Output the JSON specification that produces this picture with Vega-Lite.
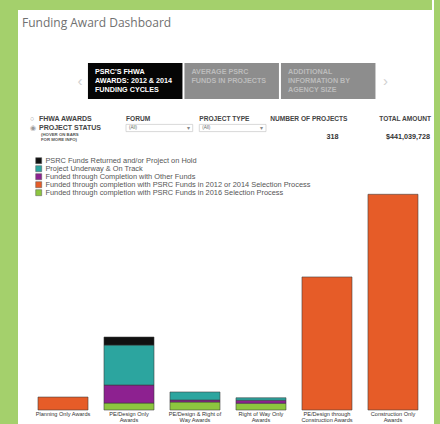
{
  "$schema": "https://vega.github.io/schema/vega-lite/v6.json",
  "background": "white",
  "padding": 0,
  "config": {"font": "Liberation Sans", "view": {"stroke": null}},
  "spacing": 0,
  "resolve": {"scale": {"color": "independent"}, "legend": {"color": "independent"}},
  "hconcat": [
    {"width": 18, "height": 424, "data": {"values": [{}]}, "mark": {"type": "rect", "color": "#a4d06c"}, "encoding": {}},
    {
      "spacing": 7,
      "resolve": {"scale": {"color": "independent"}, "legend": {"color": "independent"}},
      "vconcat": [
        {"width": 414, "height": 10, "data": {"values": [{}]}, "mark": {"type": "rect", "color": "#a4d06c"}, "encoding": {}},
        {
          "width": 414,
          "height": 36,
          "title": {"text": "Funding Award Dashboard", "anchor": "start", "frame": "group", "font": "Open Sans", "fontSize": 12, "fontWeight": "normal", "color": "#707070", "offset": 33, "dx": 4},
          "data": {"values": [
            {"tab": "PSRC's FHWA Awards", "label": "PSRC'S FHWA\nAWARDS: 2012 & 2014\nFUNDING CYCLES", "selected": true},
            {"tab": "Average PSRC Funds", "label": "AVERAGE PSRC\nFUNDS IN PROJECTS", "selected": false},
            {"tab": "Agency Size", "label": "ADDITIONAL\nINFORMATION BY\nAGENCY SIZE", "selected": false}
          ]},
          "encoding": {
            "x": {"field": "tab", "type": "nominal", "axis": null, "scale": {"type": "band", "domain": ["PSRC's FHWA Awards", "Average PSRC Funds", "Agency Size"], "paddingInner": 0.0207, "paddingOuter": 0.6554, "align": 0.553}}
          },
          "layer": [
            {"mark": {"type": "bar"}, "encoding": {"color": {"condition": {"test": "datum.selected", "value": "#050505"}, "value": "#8d8d8d"}}},
            {
              "mark": {"type": "text", "align": "left", "baseline": "top", "lineBreak": "\n", "fontSize": 7.2, "fontWeight": "bold", "lineHeight": 8.8, "dx": 7, "dy": -13},
              "encoding": {
                "x": {"field": "tab", "type": "nominal", "axis": null, "bandPosition": 0},
                "text": {"field": "label"},
                "color": {"condition": {"test": "datum.selected", "value": "#ffffff"}, "value": "#bcbcbc"}
              }
            },
            {
              "transform": [{"filter": "datum.selected"}],
              "mark": {"type": "text", "text": "‹", "fontSize": 15, "color": "#d0d0d0", "dx": -8},
              "encoding": {"x": {"field": "tab", "type": "nominal", "axis": null, "bandPosition": 0}}
            },
            {
              "transform": [{"filter": "datum.tab == 'Agency Size'"}],
              "mark": {"type": "text", "text": "›", "fontSize": 15, "color": "#d0d0d0", "dx": 10},
              "encoding": {"x": {"field": "tab", "type": "nominal", "axis": null, "bandPosition": 1}}
            }
          ]
        },
        {
          "spacing": 0,
          "hconcat": [
            {
              "width": 107,
              "height": 40,
              "data": {"values": [
                {"col": "view", "row": "header", "radio": "○", "label": "FHWA AWARDS"},
                {"col": "view", "row": "control", "radio": "◉", "label": "PROJECT STATUS"},
                {"col": "view", "row": "result", "radio": "", "label": "(HOVER ON BARS\nFOR MORE INFO)"}
              ]},
              "encoding": {
                "x": {"field": "col", "type": "nominal", "axis": null, "scale": {"type": "band", "paddingOuter": 0, "paddingInner": 0}},
                "y": {"field": "row", "type": "nominal", "axis": null, "scale": {"type": "band", "domain": ["header", "control", "result"], "paddingInner": 0.2, "paddingOuter": 0.822, "align": 0.635}}
              },
              "layer": [
                {"transform": [{"filter": "datum.row != 'result'"}], "mark": {"type": "text", "align": "left", "fontSize": 7, "color": "#9a9a9a", "dx": 12}, "encoding": {"x": {"field": "col", "type": "nominal", "axis": null, "bandPosition": 0}, "text": {"field": "radio"}}},
                {"transform": [{"filter": "datum.row != 'result'"}], "mark": {"type": "text", "align": "left", "fontSize": 7, "fontWeight": "bold", "color": "#444444", "dx": 21}, "encoding": {"x": {"field": "col", "type": "nominal", "axis": null, "bandPosition": 0}, "text": {"field": "label"}}},
                {"transform": [{"filter": "datum.row == 'result'"}], "mark": {"type": "text", "align": "left", "lineBreak": "\n", "fontSize": 4.3, "fontWeight": "bold", "color": "#555555", "lineHeight": 4.8, "dx": 23, "dy": -2}, "encoding": {"x": {"field": "col", "type": "nominal", "axis": null, "bandPosition": 0}, "text": {"field": "label"}}}
              ]
            },
            {
              "width": 140,
              "height": 40,
              "data": {"values": [
                {"col": "FORUM", "row": "header", "text": "FORUM"},
                {"col": "PROJECT TYPE", "row": "header", "text": "PROJECT TYPE"},
                {"col": "FORUM", "row": "control", "text": "(All)"},
                {"col": "PROJECT TYPE", "row": "control", "text": "(All)"}
              ]},
              "encoding": {
                "x": {"field": "col", "type": "nominal", "axis": null, "scale": {"type": "band", "domain": ["FORUM", "PROJECT TYPE"], "paddingInner": 0.09, "paddingOuter": 0}},
                "y": {"field": "row", "type": "nominal", "axis": null, "scale": {"type": "band", "domain": ["header", "control", "result"], "paddingInner": 0.2, "paddingOuter": 0.822, "align": 0.635}}
              },
              "layer": [
                {"transform": [{"filter": "datum.row == 'control'"}], "mark": {"type": "rect", "fill": "#ffffff", "stroke": "#c9c9c9", "strokeWidth": 0.7}},
                {"transform": [{"filter": "datum.row == 'header'"}], "mark": {"type": "text", "align": "left", "fontSize": 6.6, "fontWeight": "bold", "color": "#444444"}, "encoding": {"x": {"field": "col", "type": "nominal", "axis": null, "bandPosition": 0}, "text": {"field": "text"}}},
                {"transform": [{"filter": "datum.row == 'control'"}], "mark": {"type": "text", "align": "left", "fontSize": 4.5, "color": "#666666", "dx": 3}, "encoding": {"x": {"field": "col", "type": "nominal", "axis": null, "bandPosition": 0}, "text": {"field": "text"}}},
                {"transform": [{"filter": "datum.row == 'control'"}], "mark": {"type": "text", "text": "▾", "align": "right", "fontSize": 5.5, "color": "#888888", "dx": -3}, "encoding": {"x": {"field": "col", "type": "nominal", "axis": null, "bandPosition": 1}}}
              ]
            },
            {
              "width": 167,
              "height": 40,
              "data": {"values": [
                {"col": "NUMBER OF PROJECTS", "row": "header", "text": "NUMBER OF PROJECTS"},
                {"col": "TOTAL AMOUNT", "row": "header", "text": "TOTAL AMOUNT"},
                {"col": "NUMBER OF PROJECTS", "row": "result", "text": "318"},
                {"col": "TOTAL AMOUNT", "row": "result", "text": "$441,039,728"}
              ]},
              "encoding": {
                "x": {"field": "col", "type": "nominal", "axis": null, "scale": {"type": "band", "domain": ["NUMBER OF PROJECTS", "TOTAL AMOUNT"], "paddingInner": 0, "paddingOuter": 0}},
                "y": {"field": "row", "type": "nominal", "axis": null, "scale": {"type": "band", "domain": ["header", "control", "result"], "paddingInner": 0.2, "paddingOuter": 0.822, "align": 0.635}}
              },
              "layer": [
                {"transform": [{"filter": "datum.row == 'header'"}], "mark": {"type": "text", "align": "right", "fontSize": 6.6, "fontWeight": "bold", "color": "#444444", "dx": -3}, "encoding": {"x": {"field": "col", "type": "nominal", "axis": null, "bandPosition": 1}, "text": {"field": "text"}}},
                {"transform": [{"filter": "datum.row == 'result' && datum.col == 'NUMBER OF PROJECTS'"}], "mark": {"type": "text", "align": "right", "fontSize": 7.2, "fontWeight": "bold", "color": "#333333", "dx": -12}, "encoding": {"x": {"field": "col", "type": "nominal", "axis": null, "bandPosition": 1}, "text": {"field": "text"}}},
                {"transform": [{"filter": "datum.row == 'result' && datum.col == 'TOTAL AMOUNT'"}], "mark": {"type": "text", "align": "right", "fontSize": 7.2, "fontWeight": "bold", "color": "#333333", "dx": -4}, "encoding": {"x": {"field": "col", "type": "nominal", "axis": null, "bandPosition": 1}, "text": {"field": "text"}}}
              ]
            }
          ]
        },
        {
          "width": 414,
          "height": 257,
          "data": {"values": [
            {"type": "Planning Only Awards", "status": "Funded through completion with PSRC Funds in 2012 or 2014 Selection Process", "amount": 12300000},
            {"type": "PE/Design Only Awards", "status": "Funded through completion with PSRC Funds in 2016 Selection Process", "amount": 6600000},
            {"type": "PE/Design Only Awards", "status": "Funded through Completion with Other Funds", "amount": 17100000},
            {"type": "PE/Design Only Awards", "status": "Project Underway & On Track", "amount": 37900000},
            {"type": "PE/Design Only Awards", "status": "PSRC Funds Returned and/or Project on Hold", "amount": 7600000},
            {"type": "PE/Design & Right of Way Awards", "status": "Funded through completion with PSRC Funds in 2016 Selection Process", "amount": 7600000},
            {"type": "PE/Design & Right of Way Awards", "status": "Funded through Completion with Other Funds", "amount": 1900000},
            {"type": "PE/Design & Right of Way Awards", "status": "Project Underway & On Track", "amount": 7600000},
            {"type": "Right of Way Only Awards", "status": "Funded through completion with PSRC Funds in 2016 Selection Process", "amount": 6400000},
            {"type": "Right of Way Only Awards", "status": "Funded through Completion with Other Funds", "amount": 2800000},
            {"type": "Right of Way Only Awards", "status": "Project Underway & On Track", "amount": 2400000},
            {"type": "PE/Design through Construction Awards", "status": "Funded through completion with PSRC Funds in 2012 or 2014 Selection Process", "amount": 126200000},
            {"type": "Construction Only Awards", "status": "Funded through completion with PSRC Funds in 2012 or 2014 Selection Process", "amount": 204600000}
          ]},
          "transform": [
            {"calculate": "indexof(['PSRC Funds Returned and/or Project on Hold', 'Project Underway & On Track', 'Funded through Completion with Other Funds', 'Funded through completion with PSRC Funds in 2012 or 2014 Selection Process', 'Funded through completion with PSRC Funds in 2016 Selection Process'], datum.status)", "as": "legend_rank"}
          ],
          "mark": {"type": "bar", "stroke": "#3a3a3a", "strokeWidth": 0.7, "strokeOpacity": 0.8},
          "encoding": {
            "x": {
              "field": "type", "type": "nominal",
              "sort": ["Planning Only Awards", "PE/Design Only Awards", "PE/Design & Right of Way Awards", "Right of Way Only Awards", "PE/Design through Construction Awards", "Construction Only Awards"],
              "scale": {"paddingInner": 0.242, "paddingOuter": 0.2576, "align": 0.588},
              "axis": {
                "title": null, "domain": false, "ticks": false, "labelAngle": 0, "labelFontSize": 5.6, "labelColor": "#333333",
                "labelPadding": 1, "labelLineHeight": 6.5, "labelBaseline": "top",
                "labelExpr": "datum.label == 'Planning Only Awards' ? datum.label : split(replace(replace(replace(datum.label, ' Only Awards', ' Only|Awards'), ' of Way Awards', ' of|Way Awards'), 'through Construction', 'through|Construction'), '|')"
              }
            },
            "y": {"field": "amount", "type": "quantitative", "stack": "zero", "scale": {"domain": [0, 243760000], "nice": false}, "axis": null},
            "order": {"field": "legend_rank", "type": "quantitative", "sort": "descending"},
            "color": {
              "field": "status", "type": "nominal",
              "sort": ["PSRC Funds Returned and/or Project on Hold", "Project Underway & On Track", "Funded through Completion with Other Funds", "Funded through completion with PSRC Funds in 2012 or 2014 Selection Process", "Funded through completion with PSRC Funds in 2016 Selection Process"],
              "scale": {
                "domain": ["PSRC Funds Returned and/or Project on Hold", "Project Underway & On Track", "Funded through Completion with Other Funds", "Funded through completion with PSRC Funds in 2012 or 2014 Selection Process", "Funded through completion with PSRC Funds in 2016 Selection Process"],
                "range": ["#111111", "#2ca59f", "#8d2190", "#e65c28", "#8dc63f"]
              },
              "legend": {
                "title": null, "orient": "none", "legendX": 17, "legendY": 4, "padding": 0,
                "symbolType": "square", "symbolSize": 36, "symbolStrokeWidth": 0.5, "symbolStrokeColor": "#555555",
                "labelFontSize": 7.4, "labelColor": "#555555", "labelOffset": 3, "rowPadding": -1.2, "labelLimit": 400
              }
            }
          }
        }
      ]
    },
    {"width": 8, "height": 424, "data": {"values": [{}]}, "mark": {"type": "rect", "color": "#a4d06c"}, "encoding": {}}
  ]
}
